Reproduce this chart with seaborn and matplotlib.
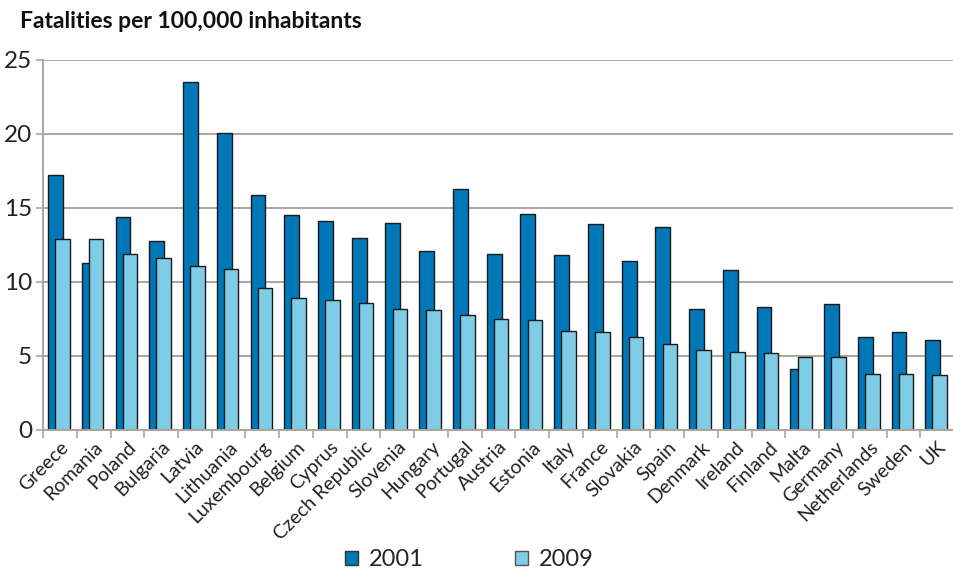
import matplotlib
matplotlib.use("Agg")
import matplotlib.pyplot as plt
from matplotlib.patches import Patch
import seaborn as sns
import pandas as pd
import numpy as np

countries = ["Greece", "Romania", "Poland", "Bulgaria", "Latvia", "Lithuania",
             "Luxembourg", "Belgium", "Cyprus", "Czech Republic", "Slovenia",
             "Hungary", "Portugal", "Austria", "Estonia", "Italy", "France",
             "Slovakia", "Spain", "Denmark", "Ireland", "Finland", "Malta",
             "Germany", "Netherlands", "Sweden", "UK"]
rate_2001 = [17.2, 11.3, 14.4, 12.8, 23.5, 20.1, 15.9, 14.5, 14.1, 13.0, 14.0,
             12.1, 16.3, 11.9, 14.6, 11.8, 13.9, 11.4, 13.7, 8.2, 10.8, 8.3,
             4.1, 8.5, 6.3, 6.6, 6.1]
rate_2009 = [12.9, 12.9, 11.9, 11.6, 11.1, 10.9, 9.6, 8.9, 8.8, 8.6, 8.2,
             8.1, 7.8, 7.5, 7.4, 6.7, 6.6, 6.3, 5.8, 5.4, 5.3, 5.2,
             4.9, 4.9, 3.8, 3.8, 3.7]
years = ["2001", "2009"]
y_ticks = [0, 5, 10, 15, 20, 25]

dark_blue = "#0077B6"
light_blue = "#7ECCE6"
grid_col = "#ADA59D"

sns.set_theme(style="white")
plt.rcParams["font.family"] = ["Lato", "DejaVu Sans"]

df = pd.DataFrame({"country": countries, "2001": rate_2001, "2009": rate_2009})

fig = plt.figure(figsize=(9.54, 5.74), dpi=100)
ax = fig.add_axes([0.0451, 0.2509, 0.9549, 0.6446])

# gridlines behind bars
ax.set_axisbelow(True)
ax.yaxis.grid(True, color=grid_col, linewidth=1.4)

# 2001 bars, shifted left within each category
sns.barplot(data=df, x="country", y="2001", order=countries, color=dark_blue,
            width=0.44, saturation=1, edgecolor="#1a1a1a", linewidth=1.0, ax=ax)
n_first = len(ax.patches)
for p in ax.patches:
    p.set_x(p.get_x() - 0.13)

# 2009 bars, overlapping to the right
sns.barplot(data=df, x="country", y="2009", order=countries, color=light_blue,
            width=0.43, saturation=1, edgecolor="#1a1a1a", linewidth=1.0, ax=ax)
for p in ax.patches[n_first:]:
    p.set_x(p.get_x() + 0.077)

ax.set_xlim(-0.5, len(countries) - 0.5)
ax.set_ylim(0, 25)
ax.set_yticks(y_ticks)
ax.set_yticklabels([str(v) for v in y_ticks], fontsize=17.5, color="#222222")
ax.set_xlabel("")
ax.set_ylabel("")

ax.set_xticks(range(len(countries)))
ax.set_xticklabels(countries, rotation=45, ha="right", va="top",
                   rotation_mode="anchor", fontsize=14, color="#222222")
ax.set_xticks(np.arange(len(countries) + 1) - 0.5, minor=True)
ax.tick_params(axis="x", which="major", length=0, pad=6)
ax.tick_params(axis="x", which="minor", length=6, width=1.2, color=grid_col,
               direction="out", bottom=True)
ax.tick_params(axis="y", which="major", length=5, width=1.2, color=grid_col,
               direction="out", left=True, pad=3)

for side in ["top", "right"]:
    ax.spines[side].set_visible(False)
for side in ["left", "bottom"]:
    ax.spines[side].set_color(grid_col)
    ax.spines[side].set_linewidth(1.4)

fig.text(0.021, 0.963, "Fatalities per 100,000 inhabitants", fontsize=16.5,
         fontweight="bold", ha="left", va="center", color="#111111")

handles = [Patch(facecolor=dark_blue, edgecolor="#333333", label=years[0]),
           Patch(facecolor=light_blue, edgecolor="#555555", label=years[1])]
fig.legend(handles=handles, loc="center", bbox_to_anchor=(0.492, 0.025), ncol=2,
           frameon=False, fontsize=17, handlelength=0.55, handleheight=0.55,
           columnspacing=3.85, handletextpad=0.47)

fig.savefig("out.png", dpi=100)
